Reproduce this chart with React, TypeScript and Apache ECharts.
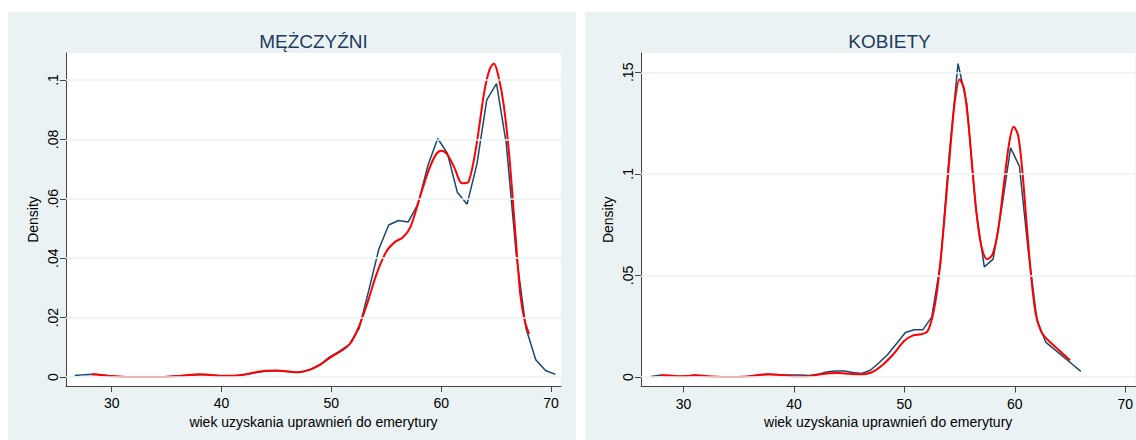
import React, { useEffect, useRef } from "react";
import * as echarts from "echarts";

// ---- Data ----
const xTicks = [30, 40, 50, 60, 70];
const menYTicks = [0, 0.02, 0.04, 0.06, 0.08, 0.1];
const womenYTicks = [0, 0.05, 0.1, 0.15];

// MĘŻCZYŹNI – empirical density (blue)
const menAge = [26.64, 27.53, 28.43, 29.32, 30.21, 31.11, 32.0, 32.89, 33.78, 34.68, 35.57, 36.46, 37.36, 38.25, 39.14, 40.04, 40.93, 41.82, 42.71, 43.61, 44.5, 45.39, 46.29, 47.18, 48.07, 48.97, 49.86, 50.75, 51.64, 52.54, 53.43, 54.32, 55.22, 56.11, 57.0, 57.9, 58.79, 59.68, 60.57, 61.47, 62.36, 63.25, 64.15, 65.04, 65.93, 66.83, 67.72, 68.61, 69.5, 70.4];
const menObserved = [0.0005, 0.0008, 0.0009, 0.0006, 0.0002, 0.0001, 0, 0, 0, 0, 0.0002, 0.0004, 0.0007, 0.0008, 0.0006, 0.0003, 0.0003, 0.0006, 0.0012, 0.0018, 0.0021, 0.002, 0.0017, 0.0016, 0.0025, 0.0042, 0.0068, 0.0087, 0.011, 0.0165, 0.0295, 0.043, 0.0512, 0.0527, 0.0522, 0.0583, 0.0712, 0.0803, 0.0753, 0.0622, 0.0582, 0.0716, 0.0933, 0.0988, 0.0785, 0.0414, 0.0164, 0.0058, 0.0022, 0.0009];

// MĘŻCZYŹNI – smoothed density (red)
const menSmoothAge = [28.2, 29.0, 30.0, 31.0, 32.0, 33.0, 34.0, 35.0, 36.0, 37.0, 38.0, 39.0, 40.0, 41.0, 42.0, 43.0, 44.0, 45.0, 46.0, 47.0, 48.0, 49.0, 50.0, 51.0, 51.7, 52.4, 53.2, 54.1, 55.0, 55.8, 56.5, 57.2, 58.0, 58.8, 59.5, 60.0, 60.5, 61.2, 61.9, 62.5, 63.2, 63.9, 64.4, 64.8, 65.2, 65.7, 66.2, 66.7, 67.2, 67.6, 68.0];
const menSmooth = [0.0009, 0.0007, 0.0003, 0.0001, 0, 0, 0, 0.0001, 0.0003, 0.0007, 0.0009, 0.0007, 0.0004, 0.0004, 0.0008, 0.0015, 0.0021, 0.0022, 0.0019, 0.0016, 0.0024, 0.0042, 0.0068, 0.009, 0.0112, 0.016, 0.024, 0.0345, 0.0422, 0.0455, 0.047, 0.0505, 0.0598, 0.069, 0.0748, 0.0762, 0.0752, 0.0705, 0.0652, 0.0658, 0.0778, 0.0955, 0.1035, 0.1056, 0.1015, 0.0915, 0.0745, 0.051, 0.028, 0.019, 0.0145];

// KOBIETY – empirical density (blue)
const womenAge = [27.07, 27.86, 28.66, 29.45, 30.25, 31.04, 31.83, 32.63, 33.42, 34.22, 35.01, 35.8, 36.6, 37.39, 38.19, 38.98, 39.77, 40.57, 41.36, 42.16, 42.95, 43.74, 44.54, 45.33, 46.13, 46.92, 47.71, 48.51, 49.3, 50.1, 50.89, 51.68, 52.48, 53.27, 54.07, 54.86, 55.65, 56.45, 57.24, 58.04, 58.83, 59.62, 60.42, 61.21, 62.01, 62.8, 63.59, 64.39, 65.18, 65.98];
const womenObserved = [0.0003, 0.0008, 0.0006, 0.0003, 0.0005, 0.0008, 0.0005, 0.0001, 0, 0, 0, 0.0003, 0.0008, 0.0013, 0.0012, 0.001, 0.001, 0.001, 0.0007, 0.0013, 0.0025, 0.003, 0.0029, 0.0022, 0.0017, 0.0033, 0.007, 0.0112, 0.0165, 0.0219, 0.0233, 0.0233, 0.0295, 0.0558, 0.11, 0.1543, 0.1346, 0.0837, 0.0542, 0.058, 0.0837, 0.1128, 0.1037, 0.0624, 0.0279, 0.0172, 0.0136, 0.01, 0.0064, 0.0028];

// KOBIETY – smoothed density (red)
const womenSmoothAge = [27.9, 28.7, 29.5, 30.3, 31.0, 31.8, 32.6, 33.5, 34.5, 35.3, 36.2, 37.0, 37.7, 38.5, 39.3, 40.2, 41.0, 41.7, 42.4, 43.2, 44.0, 45.0, 46.0, 47.0, 48.0, 49.0, 50.0, 50.8, 51.5, 52.1, 52.6, 53.0, 53.4, 53.8, 54.2, 54.6, 55.0, 55.4, 55.8, 56.2, 56.6, 57.0, 57.5, 58.0, 58.5, 59.0, 59.5, 59.9, 60.3, 60.7, 61.1, 61.5, 61.9, 62.4, 63.0, 64.0, 65.0];
const womenSmooth = [0.0008, 0.0007, 0.0004, 0.0005, 0.0008, 0.0006, 0.0002, 0, 0, 0.0001, 0.0005, 0.0011, 0.0013, 0.0011, 0.0007, 0.0003, 0.0003, 0.0006, 0.0014, 0.0019, 0.002, 0.0016, 0.0013, 0.0022, 0.0058, 0.0112, 0.0178, 0.0205, 0.021, 0.0225, 0.031, 0.044, 0.064, 0.089, 0.115, 0.137, 0.1465, 0.142, 0.125, 0.1, 0.0775, 0.0638, 0.058, 0.0605, 0.0725, 0.0945, 0.1155, 0.1232, 0.119, 0.1005, 0.0735, 0.0485, 0.031, 0.0222, 0.0182, 0.0132, 0.0082];

const titles = ["MĘŻCZYŹNI", "KOBIETY"];
const xTitle = "wiek uzyskania uprawnień do emerytury";
const yTitle = "Density";

// ---- Style ----
const FONT = '"Liberation Sans", Arial, sans-serif';
const BG = "#eaf2f3";
const NAVY = "#1a476f";
const RED = "#ff0000";
const TITLE_COLOR = "#1f3a60";
const AXIS_COLOR = "#444";

const zip = (xs: number[], ys: number[]) => xs.map((x, i) => [x, ys[i]]);
const fmt = (v: number) => (v === 0 ? "0" : String(+v.toFixed(4)).replace(/^0\./, "."));

export default function App() {
  const ref = useRef<HTMLDivElement>(null);

  useEffect(() => {
    if (!ref.current) return;
    const chart = echarts.init(ref.current, undefined, { renderer: "svg" });

    const grids = [
      { left: 66, top: 53, width: 495, height: 333 },
      { left: 641, top: 53, width: 497, height: 333.5 },
    ];
    const xRanges = [
      [25.84, 70.91],
      [26.15, 70.92],
    ];
    const yRanges = [
      [-0.00303, 0.1091],
      [-0.00468, 0.1595],
    ];
    const yTicksList = [menYTicks, womenYTicks];

    const xAxis = grids.map((_, i) => ({
      type: "value",
      gridIndex: i,
      min: xRanges[i][0],
      max: xRanges[i][1],
      name: xTitle,
      nameLocation: "middle",
      nameGap: 24,
      nameTextStyle: { fontFamily: FONT, fontSize: 14, color: "#000" },
      axisLine: { show: true, onZero: false, lineStyle: { color: AXIS_COLOR, width: 1 } },
      axisTick: { show: true, length: 6, customValues: xTicks, lineStyle: { color: AXIS_COLOR } },
      axisLabel: { customValues: xTicks, fontFamily: FONT, fontSize: 14, color: "#000", margin: 10, formatter: (v: number) => String(v) },
      splitLine: { show: false },
    }));

    const yAxis = grids.map((_, i) => ({
      type: "value",
      gridIndex: i,
      min: yRanges[i][0],
      max: yRanges[i][1],
      name: yTitle,
      nameLocation: "middle",
      nameGap: 26,
      nameRotate: 90,
      nameTextStyle: { fontFamily: FONT, fontSize: 14, color: "#000" },
      axisLine: { show: true, onZero: false, lineStyle: { color: AXIS_COLOR, width: 1 } },
      axisTick: { show: true, length: 6, customValues: yTicksList[i], lineStyle: { color: AXIS_COLOR } },
      axisLabel: { customValues: yTicksList[i], rotate: 90, fontFamily: FONT, fontSize: 14, color: "#000", margin: 6, formatter: (v: number) => fmt(v) },
      splitLine: { show: false },
    }));

    const dataSets = [
      [zip(menAge, menObserved), zip(menSmoothAge, menSmooth)],
      [zip(womenAge, womenObserved), zip(womenSmoothAge, womenSmooth)],
    ];

    const series: any[] = [];
    grids.forEach((_, i) => {
      series.push({
        type: "line",
        xAxisIndex: i,
        yAxisIndex: i,
        data: [],
        z: 1,
        silent: true,
        markLine: {
          silent: true,
          symbol: ["none", "none"],
          label: { show: false },
          lineStyle: { color: BG, type: "solid", width: 1.5 },
          data: yTicksList[i].map((v) => ({ yAxis: v })),
        },
      });
      series.push({
        type: "line",
        xAxisIndex: i,
        yAxisIndex: i,
        data: dataSets[i][0],
        showSymbol: false,
        symbol: "none",
        z: 2,
        lineStyle: { color: NAVY, width: 1.5 },
      });
      series.push({
        type: "line",
        xAxisIndex: i,
        yAxisIndex: i,
        data: dataSets[i][1],
        showSymbol: false,
        symbol: "none",
        smooth: 0.3,
        z: 3,
        lineStyle: { color: RED, width: 2 },
      });
    });

    chart.setOption({
      animation: false,
      backgroundColor: "#fff",
      graphic: [
        { type: "rect", z: -10, silent: true, shape: { x: 8, y: 12, width: 568, height: 440 }, style: { fill: BG } },
        { type: "rect", z: -10, silent: true, shape: { x: 585, y: 12, width: 568, height: 440 }, style: { fill: BG } },
        ...titles.map((t, i) => ({
          type: "text",
          z: 10,
          x: grids[i].left + grids[i].width / 2,
          y: 41,
          style: { text: t, fill: TITLE_COLOR, fontFamily: FONT, fontSize: 19, align: "center", verticalAlign: "middle" },
        })),
      ],
      grid: grids.map((g) => ({ ...g, show: true, backgroundColor: "#fff", borderWidth: 0, containLabel: false })),
      xAxis,
      yAxis,
      series,
    });

    return () => chart.dispose();
  }, []);

  return <div ref={ref} style={{ position: "fixed", left: 0, top: 0, width: 1136, height: 440 }} />;
}
